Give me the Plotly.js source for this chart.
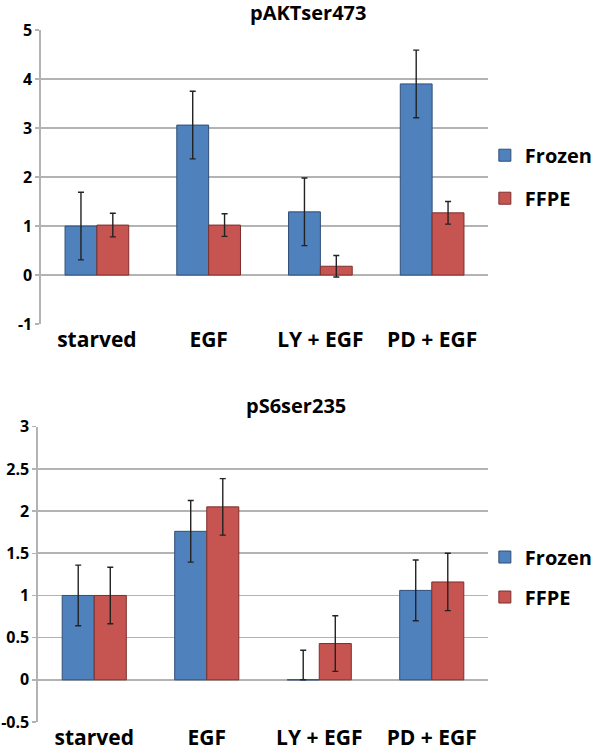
<!DOCTYPE html>
<html><head><meta charset="utf-8">
<script src="https://cdn.plot.ly/plotly-3.0.1.min.js"></script>
<style>html,body{margin:0;padding:0;background:#fff;}#chart{width:600px;height:751px;}</style>
</head><body><div id="chart"></div>
<script>
const categories = ["starved", "EGF", "LY + EGF", "PD + EGF"];
const seriesNames = ["Frozen", "FFPE"];

// pAKTser473
const aktFrozen = [1.0, 3.06, 1.29, 3.9];
const aktFrozenErr = [0.69, 0.69, 0.69, 0.69];
const aktFFPE = [1.02, 1.02, 0.18, 1.27];
const aktFFPEErr = [0.24, 0.23, 0.22, 0.23];
const aktTicks = [-1, 0, 1, 2, 3, 4, 5];
const aktTickText = ["-1", "0", "1", "2", "3", "4", "5"];

// pS6ser235
const s6Frozen = [1.0, 1.76, 0, 1.06];
const s6FrozenErrPlus = [0.36, 0.365, 0.35, 0.36];
const s6FrozenErrMinus = [0.36, 0.365, 0, 0.36];
const s6FFPE = [1.0, 2.05, 0.43, 1.16];
const s6FFPEErr = [0.335, 0.335, 0.33, 0.34];
const s6Ticks = [-0.5, 0, 0.5, 1, 1.5, 2, 2.5, 3];
const s6TickText = ["-0.5", "0", "0.5", "1", "1.5", "2", "2.5", "3"];

const FONT = "Open Sans, DejaVu Sans, sans-serif";
const BLUE = "#4f81bd", BLUE_EDGE = "#2f4f78";
const RED = "#c65450", RED_EDGE = "#7e2f2d";
const GRID = "#b3b3b3";

function errObj(plus, minus) {
  return {type: "data", symmetric: !minus, array: plus, arrayminus: minus || plus,
          color: "#222", thickness: 1.4, width: 3};
}

const traces = [
  {type: "bar", name: seriesNames[0], x: categories, y: aktFrozen, xaxis: "x", yaxis: "y",
   marker: {color: BLUE, line: {color: BLUE_EDGE, width: 1}}, error_y: errObj(aktFrozenErr),
   legend: "legend", legendgroup: "a1"},
  {type: "bar", name: seriesNames[1], x: categories, y: aktFFPE, xaxis: "x", yaxis: "y",
   marker: {color: RED, line: {color: RED_EDGE, width: 1}}, error_y: errObj(aktFFPEErr),
   legend: "legend", legendgroup: "a2"},
  {type: "bar", name: seriesNames[0], x: categories, y: s6Frozen, xaxis: "x2", yaxis: "y2",
   marker: {color: BLUE, line: {color: BLUE_EDGE, width: 1}}, error_y: errObj(s6FrozenErrPlus, s6FrozenErrMinus),
   legend: "legend2", legendgroup: "b1"},
  {type: "bar", name: seriesNames[1], x: categories, y: s6FFPE, xaxis: "x2", yaxis: "y2",
   marker: {color: RED, line: {color: RED_EDGE, width: 1}}, error_y: errObj(s6FFPEErr),
   legend: "legend2", legendgroup: "b2"}
];

const catAxis = (domain, anchor) => ({
  type: "category", categoryarray: categories, range: [-0.5, 3.5], domain: domain, anchor: anchor,
  showgrid: false, zeroline: false, showline: false, ticks: "",
  tickfont: {family: FONT, size: 21, color: "#000", weight: 700}, ticklabelstandoff: 1
});
const tickAxis = (over, pos) => ({
  overlaying: over, anchor: "free", position: pos, side: "bottom", range: [-0.5, 3.5],
  tick0: 0.5, dtick: 1, ticks: "outside", ticklen: 9, tickwidth: 1.5, tickcolor: GRID,
  showticklabels: false, showgrid: false, zeroline: false, showline: false
});
const valAxis = (domain, anchor, range, tv, tt) => ({
  domain: domain, anchor: anchor, range: range, tickvals: tv, ticktext: tt,
  showgrid: true, gridcolor: GRID, gridwidth: 1.6, zeroline: true, zerolinecolor: GRID, zerolinewidth: 1.6,
  showline: true, linecolor: GRID, linewidth: 1.6, ticks: "outside", ticklen: 4, tickcolor: GRID, tickwidth: 1.5,
  tickfont: {family: FONT, size: 16, color: "#000", weight: 700}
});

const legendStyle = (y, gap) => ({
  x: 0.993, xanchor: "left", y: y, yanchor: "middle", tracegroupgap: gap,
  font: {family: FONT, size: 20, color: "#000", weight: 700}, bgcolor: "rgba(0,0,0,0)"
});

const layout = {
  width: 600, height: 751,
  margin: {l: 38, r: 112, t: 30, b: 29, autoexpand: false},
  paper_bgcolor: "#fff", plot_bgcolor: "#fff",
  barmode: "group", bargap: 0.43, bargroupgap: 0,
  showlegend: true,
  xaxis: catAxis([0.0067, 1], "y"),
  yaxis: valAxis([0.575, 1], "x", [-1, 5], aktTicks, aktTickText),
  xaxis2: catAxis([0, 1], "y2"),
  yaxis2: valAxis([0, 0.4267], "x2", [-0.5, 3], s6Ticks, s6TickText),
  xaxis3: tickAxis("x", 0.646),
  xaxis4: tickAxis("x2", 0.0607),
  legend: legendStyle(0.788, 14),
  legend2: legendStyle(0.2095, 11),
  annotations: [
    {text: "pAKTser473", xref: "paper", yref: "paper", x: 0.6, y: 1.026, xanchor: "center", yanchor: "middle",
     showarrow: false, font: {family: FONT, size: 20, color: "#000", weight: 700}},
    {text: "pS6ser235", xref: "paper", yref: "paper", x: 0.573, y: 0.458, xanchor: "center", yanchor: "middle",
     showarrow: false, font: {family: FONT, size: 20, color: "#000", weight: 700}}
  ]
};

Plotly.newPlot("chart", traces, layout, {staticPlot: true, displayModeBar: false});
</script>
</body></html>
